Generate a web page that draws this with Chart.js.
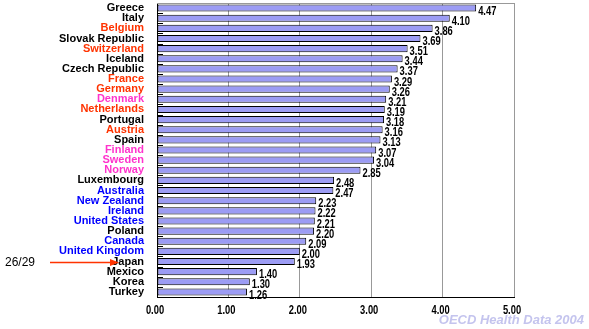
<!DOCTYPE html>
<html>
<head>
<meta charset="utf-8">
<title>Practising physicians per 1 000 population</title>
<script src="https://cdn.jsdelivr.net/npm/chart.js@4.4.1/dist/chart.umd.min.js"></script>
<style>
    html, body { margin: 0; padding: 0; background: #fff; }
    #wrap { position: relative; width: 589px; height: 329px; }
</style>
</head>
<body>
<div id="wrap">
    <canvas id="chart" width="589" height="329"></canvas>
</div>
<script>
const countries = [
    'Greece', 'Italy', 'Belgium', 'Slovak Republic', 'Switzerland', 'Iceland',
    'Czech Republic', 'France', 'Germany', 'Denmark', 'Netherlands', 'Portugal',
    'Austria', 'Spain', 'Finland', 'Sweden', 'Norway', 'Luxembourg', 'Australia',
    'New Zealand', 'Ireland', 'United States', 'Poland', 'Canada',
    'United Kingdom', 'Japan', 'Mexico', 'Korea', 'Turkey'
];

const physicians = [
    4.47, 4.10, 3.86, 3.69, 3.51, 3.44, 3.37, 3.29, 3.26, 3.21, 3.19, 3.18,
    3.16, 3.13, 3.07, 3.04, 2.85, 2.48, 2.47, 2.23, 2.22, 2.21, 2.20, 2.09,
    2.00, 1.93, 1.40, 1.30, 1.26
];

// label colour group per country: k = black, r = red, m = magenta, b = blue
const labelGroups = [
    'k', 'k', 'r', 'k', 'r', 'k', 'k', 'r', 'r', 'm', 'r', 'k', 'r', 'k',
    'm', 'm', 'm', 'k', 'b', 'b', 'b', 'b', 'k', 'b', 'b', 'k', 'k', 'k', 'k'
];

const xTicks = [0, 1, 2, 3, 4, 5];

const groupColors = { k: '#000000', r: '#ff3300', m: '#ff33cc', b: '#0000ff' };

const rankText = '26/29';
const highlight = 'Japan';
const sourceText = 'OECD Health Data 2004';

// condensed digits: bold face squeezed horizontally
function drawNarrow(ctx, text, x, y, align) {
    const squeeze = 0.72;
    ctx.save();
    ctx.font = 'bold 13px "Liberation Sans", sans-serif';
    ctx.textAlign = align;
    ctx.textBaseline = 'middle';
    ctx.translate(x, y);
    ctx.scale(squeeze, 1);
    ctx.fillText(text, 0, 0);
    ctx.restore();
}

// short inward ticks between bars, grey top border, value and axis labels
const decorations = {
    id: 'decorations',
    afterDatasetsDraw(chart) {
        const ctx = chart.ctx;
        const area = chart.chartArea;
        const x = chart.scales.x;
        const y = chart.scales.y;

        ctx.save();
        ctx.strokeStyle = '#999999';
        ctx.lineWidth = 1;
        ctx.beginPath();
        ctx.moveTo(area.left, area.top + 0.5);
        ctx.lineTo(area.right, area.top + 0.5);
        ctx.stroke();

        ctx.strokeStyle = '#000000';
        ctx.beginPath();
        for (let i = 1; i < countries.length; i++) {
            const yy = Math.round((y.getPixelForValue(i - 1) + y.getPixelForValue(i)) / 2) + 0.5;
            ctx.moveTo(area.left, yy);
            ctx.lineTo(area.left + 6, yy);
        }
        ctx.stroke();

        ctx.fillStyle = '#000000';
        chart.getDatasetMeta(0).data.forEach((bar, i) => {
            drawNarrow(ctx, physicians[i].toFixed(2), bar.x + 2, bar.y + 3, 'left');
        });

        xTicks.forEach(v => {
            drawNarrow(ctx, v.toFixed(2), x.getPixelForValue(v) - 2, area.bottom + 13, 'center');
        });

        // rank marker pointing at the highlighted country
        const idx = countries.indexOf(highlight);
        const ry = Math.round(y.getPixelForValue(idx)) + 0.5;
        ctx.font = '12px "Liberation Sans", sans-serif';
        ctx.textAlign = 'left';
        ctx.textBaseline = 'middle';
        ctx.fillText(rankText, 5, ry);

        ctx.strokeStyle = '#ff3300';
        ctx.fillStyle = '#ff3300';
        ctx.lineWidth = 1.5;
        ctx.beginPath();
        ctx.moveTo(50, ry);
        ctx.lineTo(112, ry);
        ctx.stroke();
        ctx.beginPath();
        ctx.moveTo(119, ry);
        ctx.lineTo(110, ry - 3.5);
        ctx.lineTo(110, ry + 3.5);
        ctx.closePath();
        ctx.fill();

        ctx.fillStyle = '#c4c4ee';
        ctx.font = 'italic bold 13px "Liberation Sans", sans-serif';
        ctx.textAlign = 'right';
        ctx.fillText(sourceText, 584, 320);
        ctx.restore();
    }
};

const ctx = document.getElementById('chart').getContext('2d');
const chart = new Chart(ctx, {
    type: 'bar',
    data: {
        labels: countries,
        datasets: [{
            data: physicians,
            backgroundColor: '#9c9cf4',
            borderColor: '#000000',
            borderWidth: 1,
            borderSkipped: false,
            barPercentage: 0.7,
            categoryPercentage: 1
        }]
    },
    options: {
        indexAxis: 'y',
        responsive: false,
        animation: false,
        devicePixelRatio: 1,
        layout: { padding: { top: 3, right: 75, left: 0, bottom: 0 } },
        plugins: {
            legend: { display: false },
            tooltip: { enabled: false }
        },
        scales: {
            x: {
                min: 0,
                max: 5,
                afterBuildTicks: (axis) => {
                    axis.ticks = xTicks.map(v => ({ value: v }));
                },
                afterFit: (axis) => {
                    axis.height = 32;
                    axis.paddingLeft = 0;
                    axis.paddingRight = 0;
                },
                grid: {
                    color: '#999999',
                    drawTicks: false
                },
                border: { color: '#000000', width: 1 },
                ticks: { display: false }
            },
            y: {
                afterFit: (axis) => {
                    axis.width = 157;
                    axis.paddingTop = 0;
                    axis.paddingBottom = 0;
                },
                grid: { display: false, drawTicks: false },
                border: { color: '#000000', width: 1 },
                ticks: {
                    padding: 13,
                    autoSkip: false,
                    color: (c) => groupColors[labelGroups[c.index]],
                    font: { family: '"Liberation Sans", sans-serif', size: 11, weight: 'bold' }
                }
            }
        }
    },
    plugins: [decorations]
});
</script>
</body>
</html>
